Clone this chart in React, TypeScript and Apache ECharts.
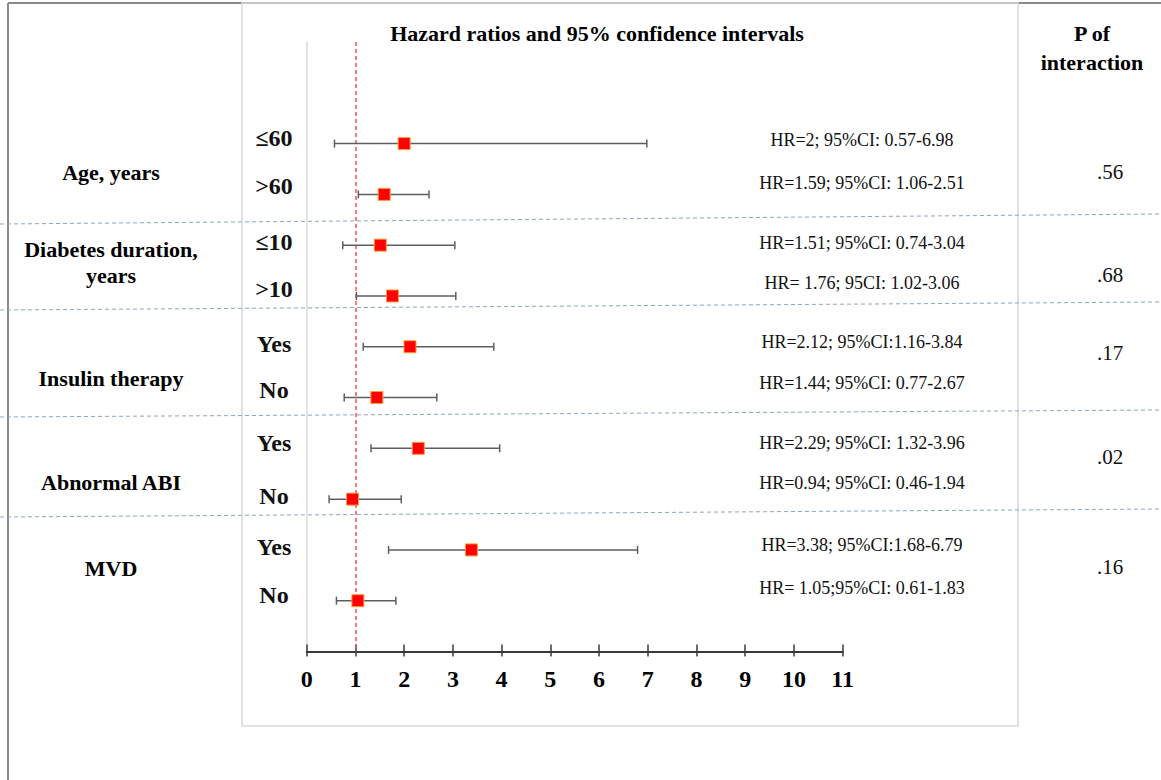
import React, { useEffect, useRef } from "react";
import * as echarts from "echarts";

const rowLabels = ["≤60", ">60", "≤10", ">10", "Yes", "No", "Yes", "No", "Yes", "No"];
const hrValues = [2, 1.59, 1.51, 1.76, 2.12, 1.44, 2.29, 0.94, 3.38, 1.05];
const ciLow = [0.57, 1.06, 0.74, 1.02, 1.16, 0.77, 1.32, 0.46, 1.68, 0.61];
const ciHigh = [6.98, 2.51, 3.04, 3.06, 3.84, 2.67, 3.96, 1.94, 6.79, 1.83];
const hrTexts = [
  "HR=2; 95%CI: 0.57-6.98",
  "HR=1.59; 95%CI: 1.06-2.51",
  "HR=1.51; 95%CI: 0.74-3.04",
  "HR= 1.76; 95CI: 1.02-3.06",
  "HR=2.12; 95%CI:1.16-3.84",
  "HR=1.44; 95%CI: 0.77-2.67",
  "HR=2.29; 95%CI: 1.32-3.96",
  "HR=0.94; 95%CI: 0.46-1.94",
  "HR=3.38; 95%CI:1.68-6.79",
  "HR= 1.05;95%CI: 0.61-1.83",
];
const groupLabels = ["Age, years", "Diabetes duration,\nyears", "Insulin therapy", "Abnormal ABI", "MVD"];
const pValues = [".56", ".68", ".17", ".02", ".16"];
const xMin = 0;
const xMax = 11;
const refValue = 1;
const title = "Hazard ratios and 95% confidence intervals";

// layout (pixel positions of annotation texts)
const rowLabelY = [138, 186, 242, 289, 344, 390, 443, 496, 547, 595];
const hrTextY = [140, 183, 243, 283, 342, 383, 443, 483, 545, 588];
const groupLabelY = [172, 262, 378, 482, 568];
const pValueY = [172, 275, 353, 457, 567];
const sepLines = [
  [224, 214],
  [310, 302],
  [417, 410],
  [517, 509],
];

const SERIF = '"Liberation Serif", "Times New Roman", serif';

function txt(text: string, x: number, y: number, size: number, bold: boolean, color = "#000", lineHeight?: number) {
  return {
    type: "text",
    x,
    y,
    style: {
      text,
      fontSize: size,
      fontFamily: SERIF,
      fontWeight: bold ? "bold" : "normal",
      fill: color,
      align: "center",
      verticalAlign: "middle",
      lineHeight: lineHeight || size * 1.2,
    },
  };
}

export default function App() {
  const ref = useRef<HTMLDivElement>(null);
  useEffect(() => {
    if (!ref.current) return;
    const chart = echarts.init(ref.current, null, { renderer: "svg" });
    const graphics: any[] = [];
    // outer frame
    graphics.push({ type: "line", shape: { x1: 8, y1: 3, x2: 1161, y2: 3 }, style: { stroke: "#8a8a8a", lineWidth: 2 } });
    graphics.push({ type: "line", shape: { x1: 8, y1: 3, x2: 8, y2: 780 }, style: { stroke: "#8a8a8a", lineWidth: 2 } });
    // inner panel
    graphics.push({
      type: "rect",
      shape: { x: 242, y: 3, width: 776, height: 723 },
      style: { fill: "none", stroke: "#d9d9d9", lineWidth: 1.5 },
    });
    // separators
    sepLines.forEach(([yl, yr]) => {
      graphics.push({
        type: "line",
        shape: { x1: 0, y1: yl, x2: 1161, y2: yr },
        style: { stroke: "#8ea3c4", lineWidth: 1, lineDash: [4, 3] },
      });
    });
    graphics.push(txt(title, 597, 33, 22, true));
    graphics.push(txt("P of", 1092, 33, 22, true));
    graphics.push(txt("interaction", 1092, 62, 22, true));
    groupLabels.forEach((g, i) => graphics.push(txt(g, 111, groupLabelY[i], 22, true, "#000", 26)));
    rowLabels.forEach((r, i) => graphics.push(txt(r, 274, rowLabelY[i], 24, true, "#111")));
    hrTexts.forEach((t, i) => graphics.push(txt(t, 862, hrTextY[i], 18, false, "#111")));
    pValues.forEach((p, i) => graphics.push(txt(p, 1110, pValueY[i], 21, false, "#111")));

    const rows = hrValues.map((_, i) => i);

    chart.setOption({
      animation: false,
      grid: { left: 306.7, right: 1161 - 842.7, top: 42, bottom: 780 - 651.5, containLabel: false },
      xAxis: [
        {
          type: "value",
          min: xMin,
          max: xMax,
          interval: 1,
          position: "bottom",
          axisLine: { show: true, onZero: false, lineStyle: { color: "#3a3a3a", width: 2 } },
          axisTick: { show: true, inside: true, length: 7, lineStyle: { color: "#3a3a3a", width: 1.5 } },
          axisLabel: {
            show: true,
            margin: 15,
            fontSize: 24,
            fontWeight: "bold",
            fontFamily: SERIF,
            color: "#000",
          },
          splitLine: { show: false },
        },
        {
          type: "value",
          min: xMin,
          max: xMax,
          interval: 1,
          position: "bottom",
          offset: 0,
          axisLine: { show: false, onZero: false },
          axisTick: { show: true, inside: false, length: 5, lineStyle: { color: "#3a3a3a", width: 1.5 } },
          axisLabel: { show: false },
          splitLine: { show: false },
        },
      ],
      yAxis: {
        type: "value",
        min: -2,
        max: 10,
        inverse: true,
        axisLine: { show: true, onZero: false, lineStyle: { color: "#dadada", width: 1.5 } },
        axisTick: { show: false },
        axisLabel: { show: false },
        splitLine: { show: false },
      },
      graphic: graphics,
      series: [
        {
          type: "custom",
          xAxisIndex: 0,
          z: 3,
          data: rows.map((i) => [ciLow[i], ciHigh[i], i]),
          renderItem: (params: any, api: any) => {
            const lo = api.coord([api.value(0), api.value(2)]);
            const hi = api.coord([api.value(1), api.value(2)]);
            const style = { stroke: "#5e5e5e", lineWidth: 1.5 };
            const cap = 4;
            return {
              type: "group",
              children: [
                { type: "line", shape: { x1: lo[0], y1: lo[1], x2: hi[0], y2: hi[1] }, style },
                { type: "line", shape: { x1: lo[0], y1: lo[1] - cap, x2: lo[0], y2: lo[1] + cap }, style },
                { type: "line", shape: { x1: hi[0], y1: hi[1] - cap, x2: hi[0], y2: hi[1] + cap }, style },
              ],
            };
          },
        },
        {
          type: "scatter",
          xAxisIndex: 0,
          z: 4,
          symbol: "rect",
          symbolSize: 12,
          itemStyle: { color: "#ff0000", borderColor: "#ff9a3c", borderWidth: 1, opacity: 1 },
          data: rows.map((i) => [hrValues[i], i]),
          markLine: {
            silent: true,
            symbol: "none",
            z: 2,
            label: { show: false },
            emphasis: { disabled: true },
            lineStyle: { color: "#ff4d4d", type: [4, 3], width: 1.5, opacity: 1 },
            data: [{ xAxis: refValue }],
          },
        },
      ],
    });
    return () => chart.dispose();
  }, []);
  return (
    <div
      ref={ref}
      style={{ position: "fixed", left: 0, top: 0, width: 1161, height: 780, background: "#fff" }}
    />
  );
}
